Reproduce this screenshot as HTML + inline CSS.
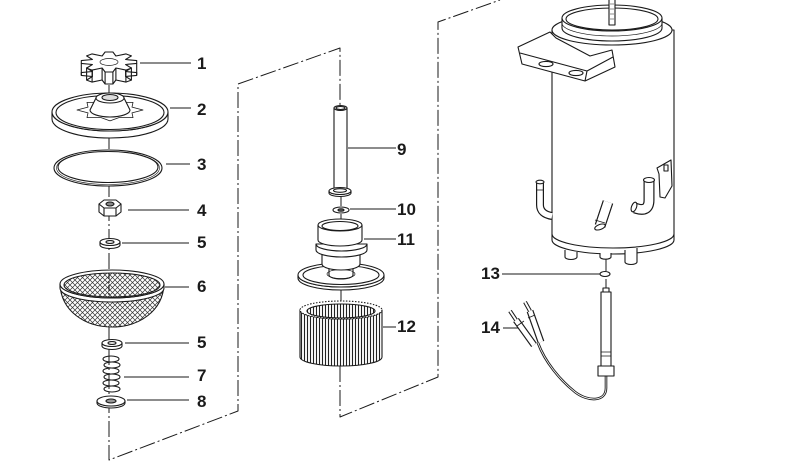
<!DOCTYPE html>
<html><head><meta charset="utf-8"><style>
html,body{margin:0;padding:0;background:#fff;}
svg{display:block;}
text{font-family:"Liberation Sans",sans-serif;font-weight:bold;font-size:17px;fill:#1a1a1a;}
</style></head><body>
<svg width="799" height="473" viewBox="0 0 799 473" xmlns="http://www.w3.org/2000/svg">
<defs>
<pattern id="mesh" width="5" height="5" patternUnits="userSpaceOnUse">
<rect width="5" height="5" fill="#fff"/>
<path d="M0,0 L5,5 M5,0 L0,5" stroke="#333" stroke-width="0.7"/>
</pattern>
<pattern id="pl" width="3" height="10" patternUnits="userSpaceOnUse">
<rect width="3" height="10" fill="#fff"/>
<line x1="1.5" y1="0" x2="1.5" y2="10" stroke="#222" stroke-width="1.1"/>
</pattern>
</defs>
<g fill="none" stroke="#1a1a1a" stroke-width="1.1" stroke-linejoin="round">

<!-- frames dash-dot -->
<g stroke-dasharray="16 3 2 3" stroke-width="1">
<path d="M109,85 L109,460 L238,411 L238,84 L340,48 L340,106"/>
<path d="M341,190 L341,305"/>
<path d="M340,366 L340,417 L438,377 L438,22 L500,0"/>
<path d="M606,255 L606,290"/>
</g>

<!-- leader lines -->
<path d="M140,63H191 M170,108H191 M166,164H190 M128,210H189 M122,243H189 M165,287H189 M125,343H189 M124,377H189 M127,400H189"/>
<path d="M348,148H396 M350,209H396 M364,239H396 M383,327H396 M502,274H600 M503,328H520"/>

<!-- Part 1 knob -->
<polygon fill="#fff" points="136.7,72.6 136.7,75.4 125.6,76.5 131.4,80.1 125.9,82.1 115.9,80 112.9,84 105.1,84 102.1,80 92.1,82.1 86.6,80.1 92.4,76.5 81.3,75.4 81.3,72.6 92.4,71.5 86.6,67.9 92.1,65.9 102.1,68 105.1,64 112.9,64 115.9,68 125.9,65.9 131.4,67.9 125.6,71.5"/>
<path d="M136.7,63.4V75.4 M131.4,68.1V80.1 M125.9,70.1V82.1 M112.9,72V84 M105.1,72V84 M92.1,70.1V82.1 M86.6,68.1V80.1 M81.3,63.4V75.4 M125.6,64.5V76.5 M115.9,68V80 M102.1,68V80 M92.4,64.5V76.5"/>
<polygon fill="#fff" points="136.7,60.6 136.7,63.4 125.6,64.5 131.4,68.1 125.9,70.1 115.9,68 112.9,72 105.1,72 102.1,68 92.1,70.1 86.6,68.1 92.4,64.5 81.3,63.4 81.3,60.6 92.4,59.5 86.6,55.9 92.1,53.9 102.1,56 105.1,52 112.9,52 115.9,56 125.9,53.9 131.4,55.9 125.6,59.5"/>
<ellipse cx="109" cy="62" rx="9" ry="3.5" stroke-width="0.7"/>

<!-- Part 2 disc -->
<path fill="#fff" d="M52,112 A58,19 0 0 0 168,112 L168,119 A58,19 0 0 1 52,119 Z"/>
<ellipse cx="110" cy="112" rx="58" ry="19" fill="#fff"/>
<ellipse cx="110" cy="112.5" rx="54" ry="17"/>
<polygon fill="#fff" stroke-width="0.8" points="143,110 132,112.9 133,117.6 118.9,117.6 110,120.9 101.1,117.6 87,117.6 88,112.9 77,110 88,107.1 87,102.4 101.1,102.4 110,99.1 118.9,102.4 133,102.4 132,107.1"/>
<path fill="#fff" d="M90,110 A20,7 0 0 0 130,110 L124,98 A14,5 0 0 0 96,98 Z"/>
<ellipse cx="110" cy="98" rx="14" ry="5" fill="#fff"/>
<ellipse cx="110" cy="97.5" rx="8" ry="3" fill="#ddd"/>

<!-- Part 3 O-ring -->
<ellipse cx="108" cy="168" rx="54" ry="18" fill="#fff"/>
<ellipse cx="108" cy="167" rx="50" ry="15.5"/>
<ellipse cx="108" cy="168" rx="51.5" ry="16.5" stroke-width="0.6"/>

<!-- Part 4 nut -->
<path fill="#fff" d="M99,204 L99,212 L104,216 L116,216 L121,212 L121,204 Z"/>
<polygon fill="#fff" points="99,204 104,200 116,200 121,204 116,208 104,208"/>
<path d="M104,208V216 M116,208V216"/>
<ellipse cx="110" cy="204" rx="4" ry="2" fill="#888"/>

<!-- Part 5 washers -->
<path fill="#fff" d="M100,242 A10,3.5 0 0 0 120,242 L120,245 A10,3.5 0 0 1 100,245 Z"/>
<ellipse cx="110" cy="242" rx="10" ry="3.5" fill="#fff"/>
<ellipse cx="110" cy="242" rx="4" ry="1.4"/>
<path fill="#fff" d="M102,343 A10,3.5 0 0 0 122,343 L122,346 A10,3.5 0 0 1 102,346 Z"/>
<ellipse cx="112" cy="343" rx="10" ry="3.5" fill="#fff"/>
<ellipse cx="112" cy="343" rx="4" ry="1.4"/>

<!-- Part 6 bowl -->
<path fill="url(#mesh)" d="M60,284 C61,311 85,327 112,327 C139,327 163,311 164,284 A52,14 0 0 1 60,284 Z"/>
<path fill="#fff" d="M60,284 A52,14 0 0 0 164,284 L164,288 A52,14 0 0 1 60,288 Z"/>
<ellipse cx="112" cy="284" rx="52" ry="14" fill="#fff"/>
<ellipse cx="112" cy="285" rx="48" ry="12" fill="url(#mesh)"/>
<path d="M109,273V296" stroke-dasharray="6 2 2 2"/>

<!-- Part 7 spring -->
<ellipse cx="111" cy="359" rx="8" ry="3"/>
<ellipse cx="112" cy="365" rx="8" ry="3"/>
<ellipse cx="111" cy="371" rx="8" ry="3"/>
<ellipse cx="112" cy="377" rx="8" ry="3"/>
<ellipse cx="111" cy="383" rx="8" ry="3"/>
<ellipse cx="112" cy="389" rx="8" ry="3"/>

<!-- Part 8 washer -->
<path fill="#fff" d="M97,401 A14,5 0 0 0 125,401 L125,403 A14,5 0 0 1 97,403 Z"/>
<ellipse cx="111" cy="401" rx="14" ry="5" fill="#fff"/>
<ellipse cx="111" cy="401" rx="5" ry="2" fill="#999"/>

<!-- Part 9 pipe -->
<rect x="334" y="108" width="13" height="82" fill="#fff"/>
<ellipse cx="340.5" cy="108" rx="6.5" ry="2.5" fill="#fff"/>
<ellipse cx="340.5" cy="108" rx="4.5" ry="1.5"/>
<path fill="#fff" d="M329,191 A11,3.5 0 0 0 351,191 L351,193 A11,3.5 0 0 1 329,193 Z"/>
<ellipse cx="340" cy="191" rx="11" ry="3.5" fill="#fff"/>
<ellipse cx="340" cy="190.5" rx="6.5" ry="1.8"/>

<!-- Part 10 -->
<ellipse cx="341" cy="210" rx="8" ry="3" fill="#fff"/>
<ellipse cx="341" cy="210" rx="3" ry="1.2" fill="#666"/>

<!-- Part 11 -->
<path fill="#fff" d="M298,275 A43,12 0 0 0 384,275 L384,278 A43,12 0 0 1 298,278 Z"/>
<ellipse cx="341" cy="275" rx="43" ry="12" fill="#fff"/>
<ellipse cx="341" cy="275" rx="38" ry="9.5"/>
<path fill="#fff" d="M329,268 L329,275 A12,4 0 0 0 353,275 L353,268 Z"/>
<ellipse cx="341" cy="274" rx="14" ry="4.5" stroke-width="0.7"/>
<path fill="#fff" d="M322,252 L322,264 A19,6 0 0 0 360,264 L360,252 Z"/>
<path fill="#fff" d="M316,244 L316,250 A25.5,7 0 0 0 367,250 L367,244 Z"/>
<path fill="#fff" d="M318,225 L318,240 A22,6 0 0 0 362,240 L362,225 Z"/>
<path d="M316,244 A25.5,7 0 0 0 367,244"/>
<ellipse cx="340" cy="225" rx="22" ry="6" fill="#fff"/>
<ellipse cx="340" cy="226" rx="18" ry="4.5"/>

<!-- Part 12 filter -->
<path fill="url(#pl)" d="M300,310 L300,357 A41,9 0 0 0 382,357 L382,310 A41,9 0 0 1 300,310 Z"/>
<ellipse cx="341" cy="310" rx="41" ry="9" fill="#fff" stroke-dasharray="1.5 1.5"/>
<ellipse cx="341" cy="311" rx="34" ry="7" fill="url(#pl)"/>

<!-- Tank body -->
<path fill="#fff" d="M552,30 L552,240 A61,14 0 0 0 674,240 L674,30 Z"/>
<path d="M552,234 A61,14 0 0 0 674,234"/>
<!-- bottom stubs -->
<path fill="#fff" d="M565,250 L565,257 A6,2.5 0 0 0 577,257 L577,252"/>
<path fill="#fff" d="M600,253 L600,257 A5.5,2.2 0 0 0 611,257 L611,253"/>
<path fill="#fff" d="M625,250 L625,262 A6,2.5 0 0 0 637,262 L637,248"/>
<!-- collar -->
<ellipse cx="612" cy="30" rx="60" ry="15" fill="#fff"/>
<path fill="#fff" d="M562,18 L562,28 A50,13 0 0 0 662,28 L662,18 Z"/>
<path d="M562,23 A50,13 0 0 0 662,23" stroke-width="0.7"/>
<ellipse cx="612" cy="18" rx="50" ry="13" fill="#fff"/>
<ellipse cx="612" cy="19" rx="46" ry="11"/>
<path fill="#fff" d="M609,0 L609,25 L615,25 L615,0"/>
<path d="M610,4h4 M610,9h4 M610,14h4 M610,19h4" stroke-width="0.6"/>
<!-- bracket -->
<polygon fill="#fff" points="518,47 550,32 556,38 590,56 612,50 615,67 585,81 522,64"/>
<path d="M520,53 L587,71 L613,57 M587,71 L585,81"/>
<ellipse cx="546" cy="64" rx="7" ry="2.6"/>
<ellipse cx="576" cy="73" rx="7" ry="2.6"/>
<!-- tank pipes -->
<path d="M540,182 L540,205 Q540,214 552,216" stroke-width="8"/>
<path d="M540,182 L540,205 Q540,214 552,216" stroke="#fff" stroke-width="5.6"/>
<ellipse cx="540" cy="182" rx="4" ry="1.8" fill="#fff"/>
<path d="M536,190h8" stroke-width="0.8"/>
<path d="M608,202 L600,226" stroke-width="11"/>
<path d="M608,202 L600,226" stroke="#fff" stroke-width="8.6"/>
<ellipse cx="600" cy="227" rx="5.5" ry="2.5" transform="rotate(-20 600 227)" fill="#fff"/>
<path d="M595,220 L605,223" stroke-width="0.8"/>
<path d="M649,181 L649,200 Q649,213 635,208" stroke-width="11"/>
<path d="M649,181 L649,200 Q649,213 635,208" stroke="#fff" stroke-width="8.6"/>
<ellipse cx="649" cy="180" rx="5.5" ry="2.5" fill="#fff"/>
<ellipse cx="634" cy="207" rx="2.5" ry="5" transform="rotate(20 634 207)" fill="#fff"/>
<polygon fill="#fff" points="657,168 671,160 672,186 665,198 660,197 659,174"/>
<rect x="664" y="165" width="4" height="6"/>

<!-- Part 13 -->
<ellipse cx="605" cy="274" rx="5" ry="2.5" fill="#fff"/>

<!-- Part 14 -->
<path d="M606,376 L606,388 C606,402 588,402 575,392 C560,380 545,362 538,343" stroke-width="2.6"/>
<path d="M606,376 L606,388 C606,402 588,402 575,392 C560,380 545,362 538,343" stroke="#fff" stroke-width="0.8"/>
<rect x="601" y="292" width="10" height="74" fill="#fff"/>
<rect x="603" y="288" width="6" height="4" fill="#fff"/>
<path d="M601,352h10 M601,356h10" stroke-width="0.7"/>
<rect x="598" y="366" width="16" height="10" fill="#fff"/>
<path d="M516,320 L534,345" stroke-width="7"/>
<path d="M516,320 L534,345" stroke="#fff" stroke-width="4.6"/>
<path d="M510,311 L516,320" stroke-width="4"/>
<path d="M510,311 L516,320" stroke="#fff" stroke-width="2"/>
<path d="M517,326 L524,321" stroke-width="0.8"/>
<path d="M530,311 L541,342" stroke-width="7"/>
<path d="M530,311 L541,342" stroke="#fff" stroke-width="4.6"/>
<path d="M525,302 L530,311" stroke-width="4"/>
<path d="M525,302 L530,311" stroke="#fff" stroke-width="2"/>
<path d="M528,318 L535,315" stroke-width="0.8"/>
</g>

<!-- labels -->
<text x="197" y="69">1</text>
<text x="197" y="115">2</text>
<text x="197" y="170">3</text>
<text x="197" y="216">4</text>
<text x="197" y="248">5</text>
<text x="197" y="292">6</text>
<text x="197" y="348">5</text>
<text x="197" y="381">7</text>
<text x="197" y="407">8</text>
<text x="397" y="155">9</text>
<text x="397" y="215">10</text>
<text x="397" y="245">11</text>
<text x="397" y="332">12</text>
<text x="481" y="279">13</text>
<text x="481" y="333">14</text>
</svg>
</body></html>
